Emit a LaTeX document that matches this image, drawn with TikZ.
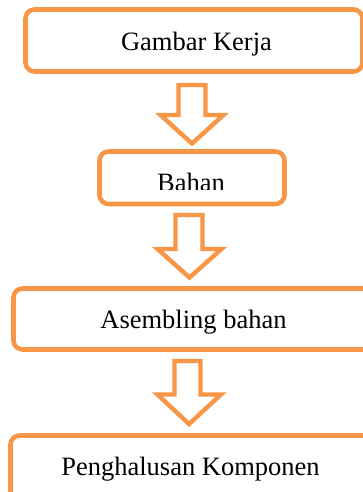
\documentclass[tikz,border=0pt]{standalone}
\usepackage{fontspec}
\setmainfont{Liberation Serif}
\definecolor{boxorange}{HTML}{F79646}
\tikzset{
  flowbox/.style={draw=boxorange, line width=4.6pt, rounded corners=9pt, fill=white},
  blockarrow/.style={draw=boxorange, line width=4.4pt, fill=white, line join=miter},
  lbl/.style={anchor=base, inner sep=0pt, font=\fontsize{26.5}{30}\selectfont, text=black}
}
\begin{document}
\begin{tikzpicture}[x=1pt,y=-1pt]
\useasboundingbox (0,0) rectangle (363,492);
\clip (0,0) rectangle (363,492);
% boxes
\draw[flowbox] (25.5,9.5) rectangle (362.5,71.5);
\draw[flowbox] (99.5,151.5) rectangle (284.5,204);
\draw[flowbox] (13.5,288.5) rectangle (380,349.5);
\draw[flowbox] (10.5,435.5) rectangle (380,530);
% labels
\node[lbl] (t1) at (196.5,50.7) {Gambar Kerja};
\begin{scope}
\clip (0,140) rectangle (363,189.5);
\node[lbl] (t2) at (191,191) {Bahan};
\end{scope}
\node[lbl] (t3) at (193.5,328.3) {Asembling bahan};
\node[lbl] (t4) at (190.5,475.5) {Penghalusan Komponen};
% block arrows
\draw[blockarrow] (178.5,85) -- (205.5,85) -- (205.5,115) -- (223.5,115) -- (192,143.5) -- (160.5,115) -- (178.5,115) -- cycle;
\draw[blockarrow] (175.5,215) -- (202.5,215) -- (202.5,249) -- (221.5,249) -- (189.5,277.5) -- (157.5,249) -- (175.5,249) -- cycle;
\draw[blockarrow] (174.5,361) -- (200.5,361) -- (200.5,394.5) -- (221,394.5) -- (189,424) -- (157.5,394.5) -- (174.5,394.5) -- cycle;
\end{tikzpicture}
\end{document}
